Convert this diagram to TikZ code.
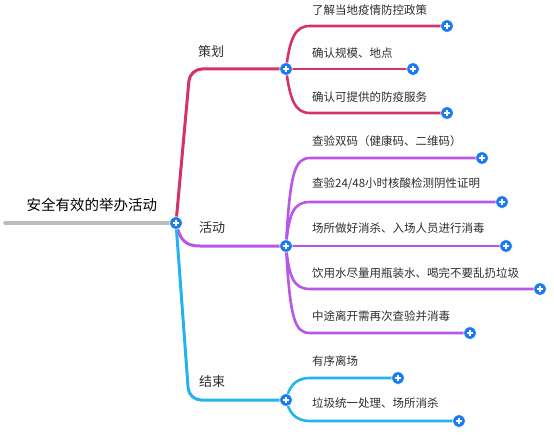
\documentclass[tikz,border=0pt]{standalone}
\usepackage{fontspec}
\setmainfont{Noto Sans CJK SC}
\usetikzlibrary{backgrounds}
\definecolor{planred}{RGB}{212,50,106}
\definecolor{actpurple}{RGB}{183,86,232}
\definecolor{endblue}{RGB}{38,178,238}
\definecolor{plusblue}{RGB}{28,122,240}
\definecolor{rootgray}{RGB}{188,188,188}
\definecolor{textgray}{RGB}{45,45,45}
\begin{document}
\begin{tikzpicture}[x=1pt, y=-1pt,
    plus/.style={circle, fill=plusblue, draw=white, line width=0.6pt, inner sep=0pt, minimum size=12.5pt,
      path picture={
        \draw[white, line width=1.5pt] ([xshift=-3.2pt]path picture bounding box.center) -- ([xshift=3.2pt]path picture bounding box.center);
        \draw[white, line width=1.5pt] ([yshift=-3.2pt]path picture bounding box.center) -- ([yshift=3.2pt]path picture bounding box.center);}},
    topic/.style={anchor=west, inner sep=0pt, text=textgray, font=\fontsize{11.5}{13}\selectfont},
    branch/.style={anchor=west, inner sep=0pt, text=textgray, font=\fontsize{13}{15}\selectfont},
    link/.style={line width=3pt, line cap=round},
    sublink/.style={line width=2.6pt, line cap=round}]

    \useasboundingbox (0,0) rectangle (554,436);

    % root
    \coordinate (start) at (5,223);
    \node [plus] (root) at (176,223) {};
    \node [anchor=center, inner sep=0pt, text=black, font=\fontsize{14.5}{16}\selectfont] (title) at (92,205) {安全有效的举办活动};

    % branch pluses
    \node [plus] (plan) at (286,69) {};
    \node [plus] (act) at (286,246) {};
    \node [plus] (fin) at (286,400) {};
    \node [branch] (planlabel) at (198,52) {策划};
    \node [branch] (actlabel) at (199,228) {活动};
    \node [branch] (finlabel) at (199,382) {结束};

    % planning items
    \node [plus] (p1) at (447,26) {};
    \node [plus] (p2) at (413,69) {};
    \node [plus] (p3) at (447,113) {};
    \node [topic] (p1text) at (312,10) {了解当地疫情防控政策};
    \node [topic] (p2text) at (312,53) {确认规模、地点};
    \node [topic] (p3text) at (312,97) {确认可提供的防疫服务};

    % activity items
    \node [plus] (a1) at (482,158) {};
    \node [plus] (a2) at (502,202) {};
    \node [plus] (a3) at (506,246) {};
    \node [plus] (a4) at (540,289) {};
    \node [plus] (a5) at (470,333) {};
    \node [topic] (a1text) at (312,141) {查验双码（健康码、二维码）};
    \node [topic] (a2text) at (312,184) {查验24/48小时核酸检测阴性证明};
    \node [topic] (a3text) at (312,228) {场所做好消杀、入场人员进行消毒};
    \node [topic] (a4text) at (312,273) {饮用水尽量用瓶装水、喝完不要乱扔垃圾};
    \node [topic] (a5text) at (312,316) {中途离开需再次查验并消毒};

    % ending items
    \node [plus] (f1) at (398,378) {};
    \node [plus] (f2) at (459,421) {};
    \node [topic] (f1text) at (312,361) {有序离场};
    \node [topic] (f2text) at (312,403) {垃圾统一处理、场所消杀};

    \begin{pgfonlayer}{background}
    \draw [link, rootgray, line width=3.5pt] (start) -- (root.center);

    \draw [link, planred, rounded corners=12pt] (root.center) -- (190,69) -- (plan.center);
    \draw [link, actpurple] (root.center) .. controls (180,240) and (185,246) .. (200,246) -- (act.center);
    \draw [link, endblue, rounded corners=12pt] (root.center) -- (189,400) -- (fin.center);

    \draw [sublink, planred] (plan.center) .. controls (290,38) and (295,26) .. (310,26) -- (p1.center);
    \draw [sublink, planred] (plan.center) -- (p2.center);
    \draw [sublink, planred] (plan.center) .. controls (290,100) and (295,113) .. (310,113) -- (p3.center);

    \draw [sublink, actpurple] (act.center) .. controls (290,172) and (295,158) .. (310,158) -- (a1.center);
    \draw [sublink, actpurple] (act.center) .. controls (289,212) and (294,202) .. (310,202) -- (a2.center);
    \draw [sublink, actpurple] (act.center) -- (a3.center);
    \draw [sublink, actpurple] (act.center) .. controls (289,278) and (294,289) .. (310,289) -- (a4.center);
    \draw [sublink, actpurple] (act.center) .. controls (290,320) and (295,333) .. (310,333) -- (a5.center);

    \draw [sublink, endblue] (fin.center) .. controls (289,388) and (294,378) .. (310,378) -- (f1.center);
    \draw [sublink, endblue] (fin.center) .. controls (289,411) and (294,421) .. (310,421) -- (f2.center);
    \end{pgfonlayer}
\end{tikzpicture}
\end{document}
